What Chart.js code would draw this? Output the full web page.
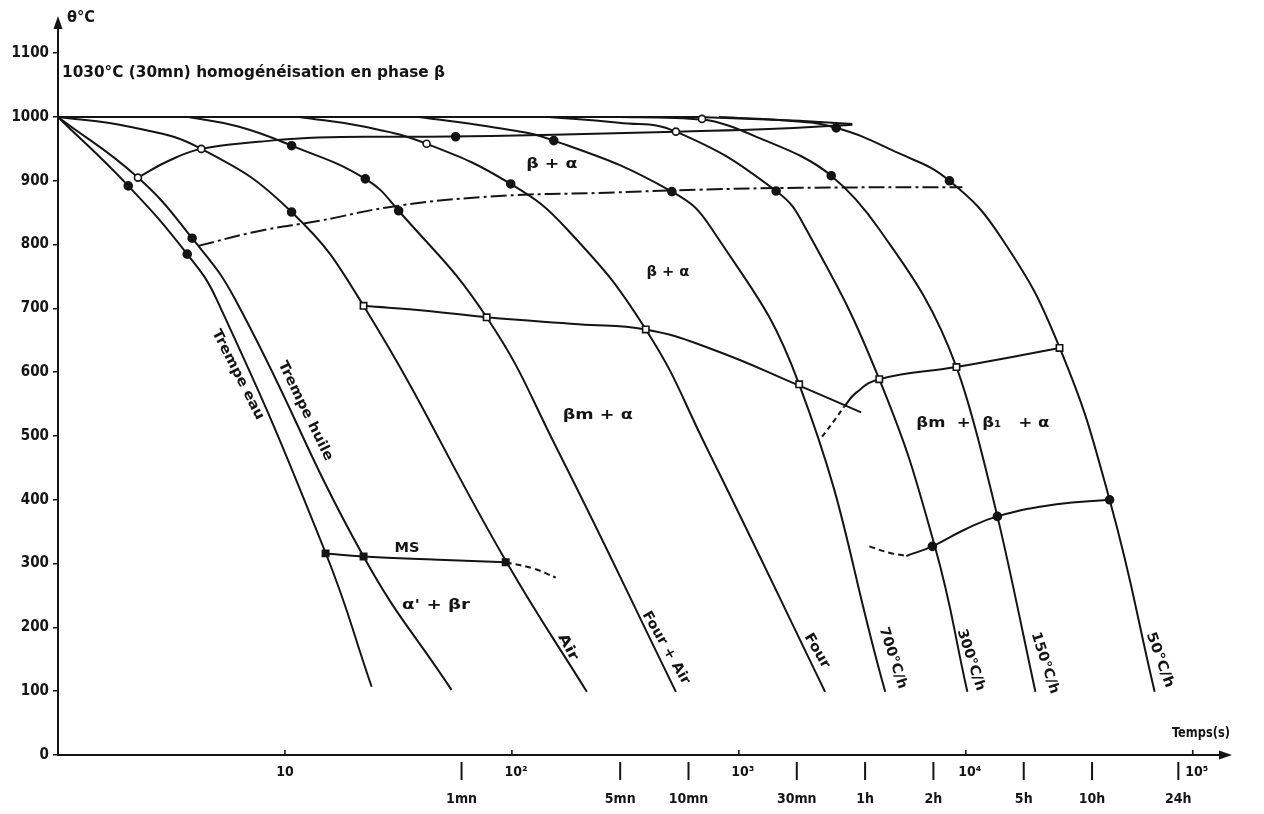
<!DOCTYPE html>
<html><head><meta charset="utf-8">
<script src="https://cdn.jsdelivr.net/npm/chart.js@4/dist/chart.umd.min.js"></script>
<style>html,body{margin:0;padding:0;background:#fff;}#wrap{width:1264px;height:814px;}</style>
</head><body><div id="wrap"><canvas id="c" width="1264" height="814"></canvas></div>
<script>
// ---- tick labels ----
const yTicks = [0,100,200,300,400,500,600,700,800,900,1000,1100];
const powerTicks = [10,100,1000,10000,100000];
const powerLabels = ['10','10²','10³','10⁴','10⁵'];
const timeTicks = [60,300,600,1800,3600,7200,18000,36000,86400];
const timeLabels = ['1mn','5mn','10mn','30mn','1h','2h','5h','10h','24h'];

// ---- cooling curves [time s, temperature °C] ----
const trempeEau   = [[1,1000],[2.04,892],[3.71,785],[5.0,714],[15.1,317],[24.1,107]];
const trempeHuile = [[1,1000],[2.25,905],[3.90,810],[6.04,714],[22.2,311],[54.2,102]];
const air         = [[1,1000],[2.04,985],[4.28,950],[10.7,851],[22.2,704],[94.8,302],[214,99]];
const fourAir     = [[3.75,1000],[6.23,985],[10.7,955],[22.6,903],[31.7,853],[77.4,686],[156,484],[528,99]];
const four        = [[11.5,1000],[22.2,985],[42.1,958],[98.8,895],[175,824],[389,667],[716,484],[2399,99]];
const v700        = [[38.8,1000],[79,985],[153,963],[507,883],[762,824],[1844,581],[4416,99]];
const v300        = [[145,1000],[296,991],[528,977],[1459,884],[1981,824],[4156,589],[7267,330],[10160,99]];
const v150        = [[296,1000],[688,996],[1250,966],[2553,908],[4156,824],[9096,608],[13780,374],[20270,99]];
const v50         = [[818,1000],[1666,994],[2685,983],[5000,944],[8471,900],[14500,808],[25880,639],[43020,400],[67950,99]];

// ---- transformation lines ----
const ligne1000     = [[1,1000],[667,1000],[1844,994],[3162,989]];
const debutAlpha    = [[2.25,905],[3.06,931],[4.28,950],[7.63,961],[14.0,968],[42.9,969],[153,972],[528,977],[1359,981],[3162,988]];
const ligneMixte    = [[4.15,798],[7.63,821],[14.0,837],[31.7,861],[87.4,876],[242,881],[667,886],[1844,889],[9660,890]];
const ligneBm       = [[22.2,704],[42.9,696],[77.4,686],[197,675],[389,667],[762,636],[1844,579],[3459,537]];
const ligneB1       = [[2912,546],[3289,568],[4156,589],[9096,608],[15570,623],[25880,638]];
const ligneB1Tirets = [[2328,499],[2630,524],[2912,546]];
const ligneMs       = [[15.1,316],[22.2,311],[47.5,306],[93.9,302]];
const ligneMsTirets = [[93.9,302],[125,292],[156,278]];
const ligneBas      = [[5470,312],[7123,327],[9860,353],[13780,374],[25120,393],[43020,400]];
const ligneBasTirets= [[3758,327],[4603,317],[5470,312]];

// ---- measured points ----
const cerclesOuverts = [[2.25,905],[4.28,950],[42.1,958],[528,977],[688,997]];
const cerclesPleins  = [[2.04,892],[3.90,810],[3.71,785],[10.7,955],[10.7,851],[22.6,903],[31.7,853],[56.5,969],[98.8,895],[153,963],[507,883],[1459,884],[2553,908],[2685,983],[8471,900],[7123,327],[13780,374],[43020,400]];
const carresOuverts  = [[22.2,704],[77.4,686],[389,667],[1844,581],[4156,589],[9096,608],[25880,638]];
const carresPleins   = [[15.1,316],[22.2,311],[93.9,302]];

const INK = '#141414';
const FONT = '"DejaVu Sans Condensed","DejaVu Sans",sans-serif';
const xy = a => a.map(([x,y]) => ({x,y}));

function lineDs(arr, dash, tension, mono){
  const d = {data: xy(arr), showLine:true, borderColor:INK, borderWidth:2, pointRadius:0,
    tension: tension===undefined?0.45:tension, borderDash: dash||[], fill:false, order:2};
  if (mono) d.cubicInterpolationMode = 'monotone';
  return d;
}
function ptDs(arr, style, filled, r){
  return {data: xy(arr), showLine:false, pointStyle:style, pointRadius:r, pointBorderWidth:1.6,
    pointBorderColor:INK, pointBackgroundColor: filled?INK:'#fff', order:0};
}

const curves = [trempeEau,trempeHuile,air,fourAir,four,v700,v300,v50,debutAlpha,ligneBm,ligneB1,ligneMs,ligneBas];
const datasets = [
  ptDs(cerclesOuverts,'circle',false,3.5),
  ptDs(cerclesPleins,'circle',true,4),
  ptDs(carresOuverts,'rect',false,4.5),
  ptDs(carresPleins,'rect',true,4.5),
  ...curves.map(c=>lineDs(c)),
  lineDs(v150,[],0.4,true),
  lineDs(ligne1000,[],0),
  lineDs(ligneMixte,[16,4,3,4]),
  lineDs(ligneB1Tirets,[5,4]),
  lineDs(ligneMsTirets,[6,4]),
  lineDs(ligneBasTirets,[6,4])
];

// ---- text annotations (data coordinates) ----
const notes = [
  {t:'β + α', x:150, y:925, w:51},
  {t:'β + α', x:487, y:757, w:43},
  {t:'βm + α', x:239, y:533, w:70},
  {t:'βm  +  β₁   + α', x:11890, y:520, w:133},
  {t:'MS', x:34.5, y:324, w:25},
  {t:'α\' + βr', x:46.3, y:235, w:68},
  {t:'Trempe eau', x:6.2, y:596, w:99, rot:63},
  {t:'Trempe huile', x:12.3, y:539, w:109, rot:64},
  {t:'Air', x:176.5, y:169, w:28, rot:62},
  {t:'Four + Air', x:477, y:168, w:82, rot:60},
  {t:'Four', x:2208, y:163, w:38, rot:60},
  {t:'700°C/h', x:4766, y:152, w:64, rot:72},
  {t:'300°C/h', x:10520, y:149, w:64, rot:72},
  {t:'150°C/h', x:22290, y:144, w:64, rot:72},
  {t:'50°C/h', x:71600, y:149, w:58, rot:70}
];

function txt(ctx, s, cx, cy, size, w, rot, align){
  ctx.save();
  ctx.font = 'bold '+size+'px '+FONT;
  ctx.translate(cx, cy);
  if (rot) ctx.rotate(rot*Math.PI/180);
  const m = ctx.measureText(s).width;
  const k = w ? w/m : 1;
  ctx.scale(k,1);
  ctx.textBaseline = 'middle';
  ctx.textAlign = align||'center';
  ctx.fillText(s, 0, 0);
  ctx.restore();
}

const deco = {
  id:'deco',
  afterDraw(chart){
    const {ctx, chartArea:a, scales:{x,y}} = chart;
    ctx.save();
    ctx.fillStyle = INK; ctx.strokeStyle = INK;
    // arrow heads
    ctx.beginPath(); ctx.moveTo(a.left, a.top-4); ctx.lineTo(a.left-4.5, a.top+9); ctx.lineTo(a.left+4.5, a.top+9); ctx.closePath(); ctx.fill();
    ctx.beginPath(); ctx.moveTo(a.right+4, a.bottom); ctx.lineTo(a.right-9, a.bottom-4.5); ctx.lineTo(a.right-9, a.bottom+4.5); ctx.closePath(); ctx.fill();
    // power-of-ten ticks
    ctx.lineWidth = 1.6;
    powerTicks.forEach((v,i)=>{
      const px = x.getPixelForValue(v);
      ctx.beginPath(); ctx.moveTo(px, a.bottom-5); ctx.lineTo(px, a.bottom); ctx.stroke();
      txt(ctx, powerLabels[i], px+(i?4:0), a.bottom+17, 14, 0, 0);
    });
    // time ticks
    ctx.lineWidth = 2;
    timeTicks.forEach((v,i)=>{
      const px = x.getPixelForValue(v);
      ctx.beginPath(); ctx.moveTo(px, a.bottom+7); ctx.lineTo(px, a.bottom+25); ctx.stroke();
      txt(ctx, timeLabels[i], px, a.bottom+44, 14, 0, 0);
    });
    // axis titles
    txt(ctx, 'θ°C', a.left+9, a.top-2, 16, 28, 0, 'left');
    txt(ctx, 'Temps(s)', a.right-27, a.bottom-22, 14, 58, 0);
    txt(ctx, '1030°C (30mn) homogénéisation en phase β', a.left+4, y.getPixelForValue(1069), 15, 383, 0, 'left');
    notes.forEach(n=>{
      txt(ctx, n.t, x.getPixelForValue(n.x), y.getPixelForValue(n.y), 14, n.w, n.rot||0);
    });
    ctx.restore();
  }
};

new Chart(document.getElementById('c'), {
  type:'scatter',
  data:{datasets},
  options:{
    responsive:false, animation:false, devicePixelRatio:1,
    layout:{padding:{left:0,right:36,top:20,bottom:0}},
    plugins:{legend:{display:false}, tooltip:{enabled:false}},
    scales:{
      x:{type:'logarithmic', min:1, max:143000, position:'bottom',
         grid:{display:false}, border:{display:true,color:INK,width:2},
         ticks:{display:false}, afterFit(s){ s.height = 59; }},
      y:{type:'linear', min:0, max:1152, position:'left',
         grid:{display:true, drawOnChartArea:false, tickLength:5, color:INK, lineWidth:1.5},
         border:{display:true,color:INK,width:2},
         ticks:{color:INK, padding:4, autoSkip:false, font:{family:FONT, weight:'bold', size:15},
                callback:v=>String(v)},
         afterBuildTicks(s){ s.ticks = yTicks.map(v=>({value:v})); },
         afterFit(s){ s.width = 58; }}
    }
  },
  plugins:[deco]
});
</script>
</body></html>
